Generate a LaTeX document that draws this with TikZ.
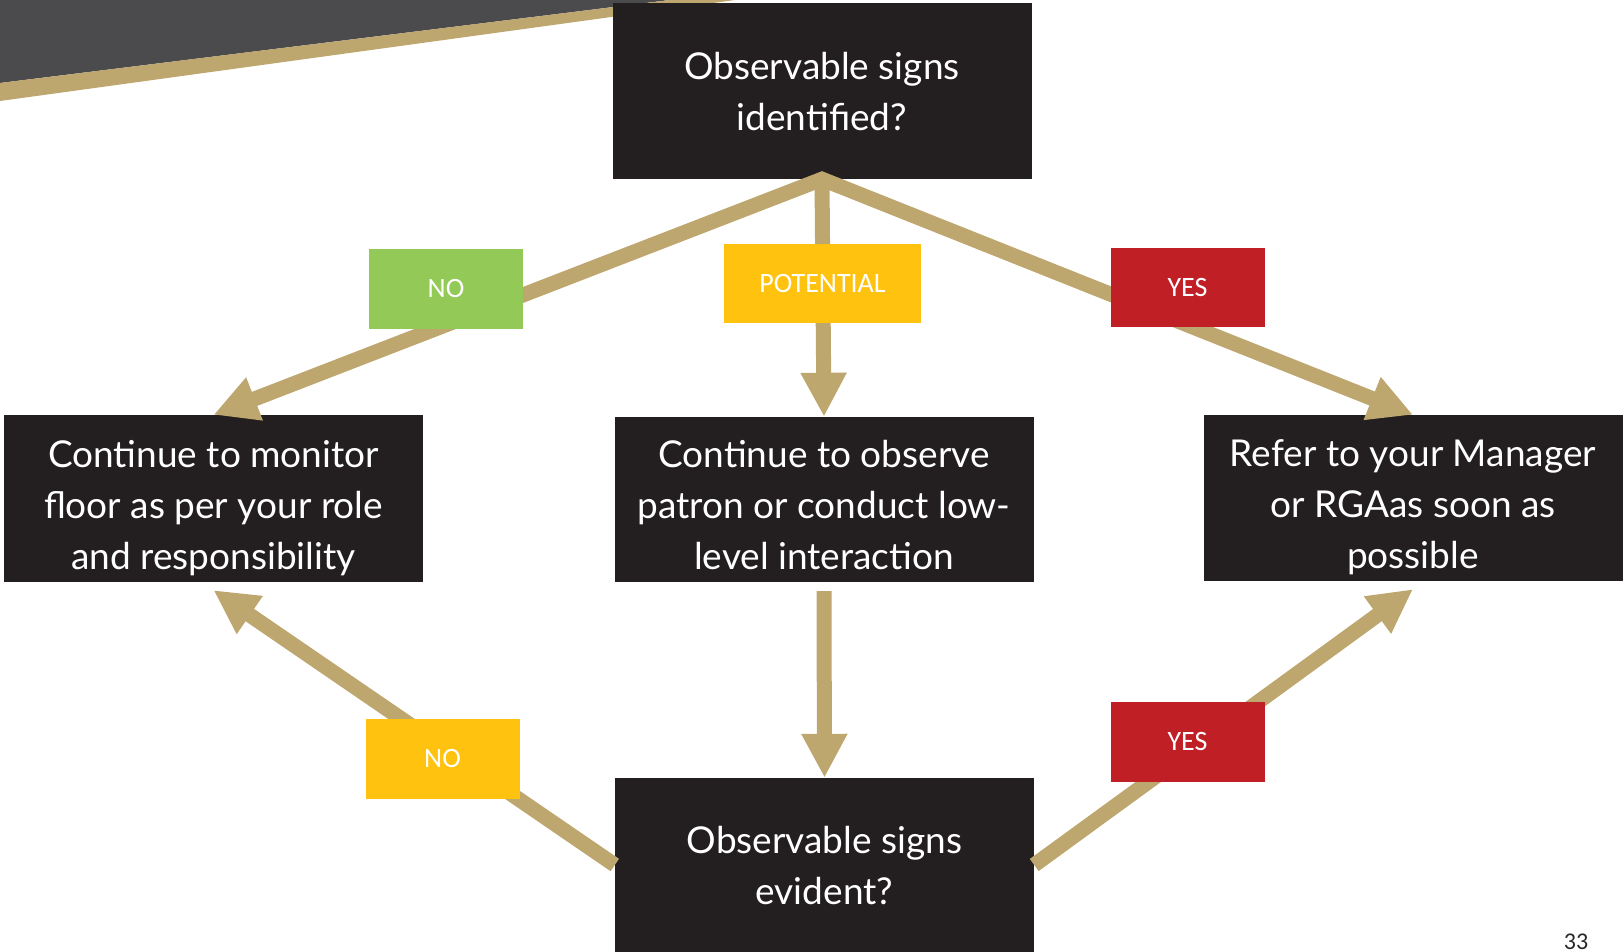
\documentclass[tikz,border=0pt]{standalone}
\usepackage{fontspec}
\setmainfont{Lato}
\newfontfamily\labelfont{Carlito}
\usetikzlibrary{arrows.meta,calc}
\definecolor{gold}{RGB}{190,167,110}
\definecolor{boxdark}{RGB}{35,31,32}
\definecolor{bandgray}{RGB}{75,75,77}
\definecolor{tagGreen}{RGB}{146,201,87}
\definecolor{tagYellow}{RGB}{255,194,14}
\definecolor{tagRed}{RGB}{192,31,38}
\definecolor{numgray}{RGB}{40,40,40}
\begin{document}
\begin{tikzpicture}[x=1pt,y=-1pt,
  box/.style={fill=boxdark, text=white, inner sep=0pt, align=center, minimum width=419pt,
    text depth=0pt, font=\fontsize{37}{51}\selectfont},
  boxtext/.style={text=white, inner sep=0pt, align=center, text depth=0pt,
    font=\fontsize{37}{51}\selectfont},
  tag/.style={text=white, inner sep=0pt, minimum width=154pt, minimum height=80pt,
    font=\labelfont\fontsize{28}{30}\selectfont},
  flow/.style={draw=gold, line width=15pt, -{Triangle[length=44pt,width=43pt]}},
]
\useasboundingbox (0,0) rectangle (1623,952);
% header decoration
\fill[bandgray] (0,0) -- (670,0) -- (0,83) -- cycle;
\fill[gold] (0,83) -- (670,0) -- (735,0) -- (0,101) -- cycle;

% boxes
\node[box, minimum height=176pt] (top) at (822,91) {Observable signs\\identified?};
\node[box, minimum height=167pt] (left) at (213.5,498.5) {};
\node[box, minimum height=165pt] (mid) at (824,499.5) {};
\node[box, minimum height=166pt] (right) at (1413,498) {};
\node[box, minimum height=174pt] (bot) at (824.5,865) {Observable signs\\evident?};
\node[boxtext] (leftT) at ([yshift=-6pt]left.center) {Continue to monitor\\floor as per your role\\and responsibility};
\node[boxtext] (midT) at ([yshift=-5pt]mid.center) {Continue to observe\\patron or conduct low-\\level interaction};
\node[boxtext] (rightT) at ([yshift=-6pt]right.center) {Refer to your Manager\\or RGAas soon as\\possible};

% connectors
\coordinate (apex) at (top.south);
\draw[draw=gold, line width=15pt, {Triangle[length=44pt,width=43pt]}-{Triangle[length=44pt,width=43pt]}]
  (left.north) -- (apex) -- (right.north);
\draw[flow] (apex) -- (mid.north);
\draw[flow] ([yshift=-9pt]mid.south) -- (bot.north);
\draw[flow] (bot.west) -- ([yshift=-8pt]left.south);
\draw[flow] (bot.east) -- ([yshift=-8pt]right.south);

% labels
\node[tag, fill=tagGreen] (noA) at (446,289) {NO};
\node[tag, fill=tagYellow, minimum width=197pt, minimum height=79pt] (pot) at (822.5,283.5) {POTENTIAL};
\node[tag, fill=tagRed, minimum height=79pt] (yesA) at (1187.5,287.5) {YES};
\node[tag, fill=tagYellow] (noB) at (442.5,759) {NO};
\node[tag, fill=tagRed] (yesB) at (1187.5,742) {YES};

% page number
\node[anchor=base, text=numgray, inner sep=0pt, font=\labelfont\fontsize{24}{24}\selectfont] (pg) at (1576,949) {33};
\end{tikzpicture}
\end{document}
